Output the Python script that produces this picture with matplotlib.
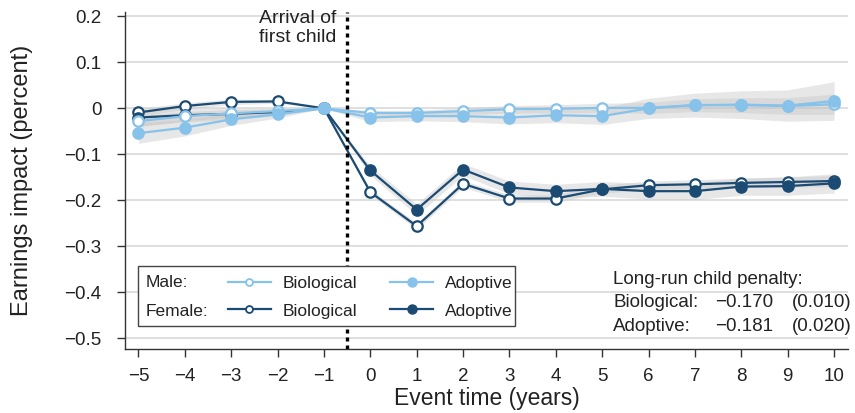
import matplotlib.pyplot as plt
import matplotlib.patches as mpatches
from matplotlib.lines import Line2D
import numpy as np

plt.rcParams["font.family"] = ["Liberation Sans", "DejaVu Sans"]

event_time = [-5, -4, -3, -2, -1, 0, 1, 2, 3, 4, 5, 6, 7, 8, 9, 10]

male_bio = [-0.028, -0.017, -0.011, -0.006, 0.0, -0.010, -0.010, -0.006, -0.002, -0.001,
            0.001, 0.001, 0.007, 0.007, 0.005, 0.009]
male_adopt = [-0.054, -0.042, -0.024, -0.013, 0.0, -0.020, -0.017, -0.017, -0.020, -0.015,
              -0.017, 0.000, 0.007, 0.008, 0.006, 0.016]
female_bio = [-0.009, 0.005, 0.014, 0.015, 0.0, -0.182, -0.256, -0.164, -0.196, -0.196,
              -0.176, -0.167, -0.165, -0.162, -0.160, -0.158]
female_adopt = [-0.020, -0.015, -0.012, -0.008, 0.0, -0.135, -0.220, -0.133, -0.172, -0.180,
                -0.175, -0.180, -0.180, -0.170, -0.169, -0.163]

# half-widths of the confidence bands
male_bio_ci = [0.012, 0.010, 0.008, 0.005, 0.0, 0.005, 0.006, 0.007, 0.008, 0.009,
               0.010, 0.012, 0.014, 0.016, 0.018, 0.022]
male_adopt_ci = [0.022, 0.018, 0.013, 0.008, 0.0, 0.009, 0.010, 0.012, 0.014, 0.016,
                 0.018, 0.022, 0.026, 0.030, 0.034, 0.042]
female_bio_ci = [0.008, 0.007, 0.006, 0.004, 0.0, 0.006, 0.007, 0.007, 0.008, 0.008,
                 0.009, 0.009, 0.010, 0.010, 0.011, 0.012]
female_adopt_ci = [0.018, 0.015, 0.012, 0.008, 0.0, 0.010, 0.012, 0.013, 0.014, 0.015,
                   0.016, 0.017, 0.018, 0.019, 0.020, 0.021]

y_ticks = [0.2, 0.1, 0.0, -0.1, -0.2, -0.3, -0.4, -0.5]
x_ticks = list(range(-5, 11))

LIGHT = "#86c2ea"
DARK = "#1b4a72"
TXT = "#222222"

fig = plt.figure(figsize=(8.55, 4.13), dpi=100)
ax = fig.add_axes([0.1462, 0.1538, 0.8456, 0.8179])

x = np.array(event_time)
series = [
    (female_bio, female_bio_ci, DARK, True),
    (female_adopt, female_adopt_ci, DARK, False),
    (male_bio, male_bio_ci, LIGHT, True),
    (male_adopt, male_adopt_ci, LIGHT, False),
]
for vals, ci, col, hollow in series:
    v = np.array(vals)
    c = np.array(ci)
    ax.fill_between(x, v - c, v + c, color="#c4c4c4", alpha=0.4, lw=0, zorder=2)
for vals, ci, col, hollow in series:
    ax.plot(x, vals, color=col, lw=1.6, marker="o", ms=7.5,
            mfc="white" if hollow else col, mec=col, mew=1.6, zorder=4)

ax.axvline(-0.5, color="black", lw=2.4, ls=(0, (1.2, 1.2)), zorder=5)
ax.text(-0.73, 0.213, "Arrival of\nfirst child", ha="right", va="top",
        multialignment="center", fontsize=14, color=TXT, clip_on=False,
        linespacing=1.15)

ax.set_xlim(-5.29, 10.3)
ax.set_ylim(-0.524, 0.21)
ax.set_xticks(x_ticks)
ax.set_xticklabels([str(t).replace("-", "\u2212") for t in x_ticks])
ax.set_yticks(y_ticks)
ax.set_yticklabels([f"{t:g}".replace("-", "\u2212") for t in y_ticks])
ax.tick_params(labelsize=13.5, length=6, width=1, color="#333333", labelcolor=TXT)
ax.tick_params(axis="x", pad=7)
ax.tick_params(axis="y", pad=11)
ax.grid(axis="y", color="#dcdcdc", lw=1.3, zorder=0)
ax.set_axisbelow(True)
for s in ["top", "right"]:
    ax.spines[s].set_visible(False)
for s in ["left", "bottom"]:
    ax.spines[s].set_color("#333333")
    ax.spines[s].set_linewidth(1)

ax.set_xlabel("Event time (years)", fontsize=16.5, color=TXT, labelpad=2)
ax.set_ylabel("Earnings impact (percent)", fontsize=17, color=TXT)
ax.yaxis.set_label_coords(-0.127, 0.5)

# legend box
box = mpatches.Rectangle((0.018, 0.07), 0.522, 0.178, transform=ax.transAxes,
                         fill=True, facecolor="white", edgecolor="#444444", lw=1, zorder=6)
ax.add_patch(box)
ax.text(0.029, 0.197, "Male:", transform=ax.transAxes, fontsize=12.5, va="center",
        color=TXT, zorder=7)
ax.text(0.029, 0.112, "Female:", transform=ax.transAxes, fontsize=12.5, va="center",
        color=TXT, zorder=7)
handles = [
    Line2D([], [], color=LIGHT, lw=1.6, marker="o", ms=5, mfc="white", mec=LIGHT, mew=1.3),
    Line2D([], [], color=DARK, lw=1.6, marker="o", ms=5, mfc="white", mec=DARK, mew=1.3),
    Line2D([], [], color=LIGHT, lw=1.6, marker="o", ms=6.5, mfc=LIGHT, mec=LIGHT),
    Line2D([], [], color=DARK, lw=1.6, marker="o", ms=6.5, mfc=DARK, mec=DARK),
]
labels = ["Biological", "Biological", "Adoptive", "Adoptive"]
leg = ax.legend(handles, labels, ncol=2, frameon=False, fontsize=12.5,
                loc="upper left", bbox_to_anchor=(0.13, 0.243), borderpad=0,
                handlelength=2.5, handletextpad=0.65, columnspacing=1.9,
                labelspacing=0.7)
leg.set_zorder(8)
for t in leg.get_texts():
    t.set_color(TXT)

# long-run penalty annotation
ax.text(0.675, 0.206, "Long-run child penalty:", transform=ax.transAxes, fontsize=13.5,
        va="center", color=TXT)
rows = [("Biological:", "\u22120.170", "(0.010)", 0.138),
        ("Adoptive:", "\u22120.181", "(0.020)", 0.068)]
for name, est, se, yy in rows:
    ax.text(0.675, yy, name, transform=ax.transAxes, fontsize=13.5, va="center", color=TXT)
    ax.text(0.897, yy, est, transform=ax.transAxes, fontsize=13.5, va="center", ha="right",
            color=TXT)
    ax.text(0.923, yy, se, transform=ax.transAxes, fontsize=13.5, va="center", color=TXT,
            clip_on=False)

fig.savefig("out.png", dpi=100)
